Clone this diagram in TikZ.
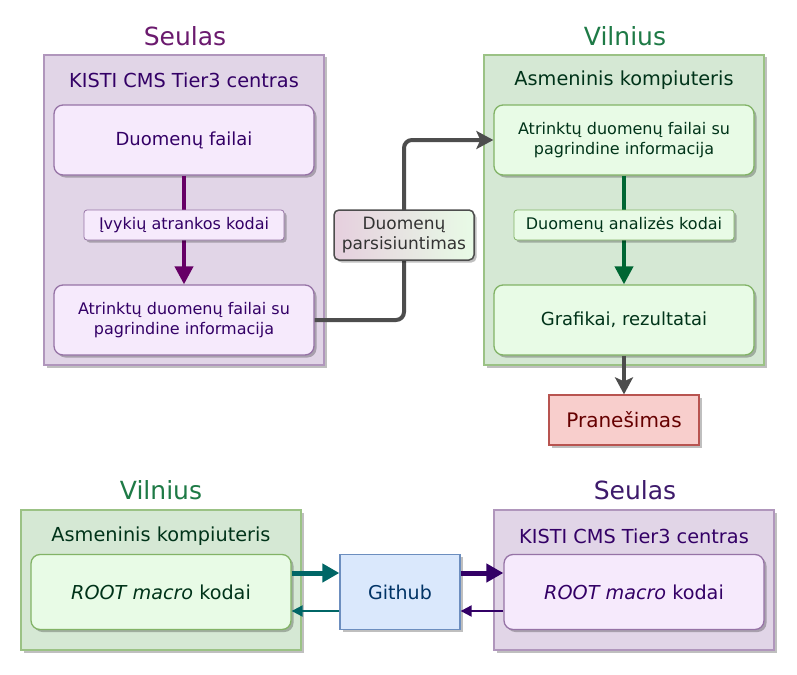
\documentclass[tikz,border=0pt]{standalone}
\usepackage{fontspec}
\setmainfont{DejaVu Sans}
\usetikzlibrary{arrows.meta,shadows,positioning,calc}
\definecolor{purpfill}{HTML}{E1D5E7}
\definecolor{purpline}{HTML}{9673A6}
\definecolor{purpbox}{HTML}{F6EAFC}
\definecolor{greenfill}{HTML}{D5E8D4}
\definecolor{greenline}{HTML}{82B366}
\definecolor{greenbox}{HTML}{E8FBE6}
\definecolor{purptitle}{HTML}{6B1A6E}
\definecolor{purptitleb}{HTML}{3D1A6B}
\definecolor{greentitle}{HTML}{1E7A46}
\definecolor{purptext}{HTML}{330066}
\definecolor{greentext}{HTML}{003319}
\definecolor{arrpurp}{HTML}{660066}
\definecolor{arrgreen}{HTML}{006633}
\definecolor{arrgray}{HTML}{4D4D4D}
\definecolor{arrteal}{HTML}{006666}
\definecolor{arrviolet}{HTML}{330066}
\definecolor{redfill}{HTML}{F8CECC}
\definecolor{redline}{HTML}{B85450}
\definecolor{redtext}{HTML}{660000}
\definecolor{bluefill}{HTML}{DAE8FC}
\definecolor{blueline}{HTML}{6C8EBF}
\definecolor{bluetext}{HTML}{003366}
\definecolor{gradleft}{HTML}{E6CFDE}
\tikzset{
  shad/.style={drop shadow={shadow xshift=2.5pt,shadow yshift=-2.5pt,opacity=0.25,fill=black}},
  cont/.style={shad,draw,line width=1.2pt,minimum width=280pt,inner sep=0pt},
  pcont/.style={cont,fill=purpfill,draw=purpline!75},
  gcont/.style={cont,fill=greenfill,draw=greenline!80},
  inbox/.style={shad,draw,line width=1.3pt,rounded corners=9pt,minimum width=260pt,inner sep=0pt,align=center,font=\fontsize{16}{20}\selectfont},
  pbox/.style={inbox,fill=purpbox,draw=purpline,text=purptext},
  gbox/.style={inbox,fill=greenbox,draw=greenline,text=greentext},
  bigtext/.style={font=\fontsize{18}{21}\selectfont},
  lab/.style={shad,draw,line width=0.8pt,rounded corners=3pt,inner sep=0pt,minimum height=30pt,font=\fontsize{16}{19}\selectfont},
  title/.style={font=\fontsize{25}{29}\selectfont},
  ctitle/.style={font=\fontsize{19.3}{22}\selectfont},
  vert arrow/.style={line width=4pt,-{Triangle[length=18pt,width=18pt]}},
  thick arrow/.style={line width=5pt,-{Triangle[length=17pt,width=18pt]}},
  thin arrow/.style={line width=2pt,-{Triangle[length=11pt,width=11pt]}},
  gray arrow/.style={line width=4pt,draw=arrgray,-{Stealth[length=17pt,width=18pt,inset=4pt]}},
}
\begin{document}
\begin{tikzpicture}[x=1pt,y=-1pt]
\useasboundingbox[fill=white] (0,0) rectangle (797,674);

% ---------- top left: Seulas ----------
\node[title,text=purptitle] (t1) at (185,36) {Seulas};
\node[pcont,minimum height=310pt] (c1) at (184,210) {};
\node[ctitle,text=purptext] (c1l) at (184,80) {KISTI CMS Tier3 centras};
\node[pbox,minimum height=70pt,bigtext] (s1) at (184,140) {Duomenų failai};
\node[pbox,minimum height=70pt] (s2) at (184,320) {Atrinktų duomenų failai su\\pagrindine informacija};
\draw[vert arrow,draw=arrpurp] (s1.south) -- (s2.north);
\node[lab,fill=purpbox,draw=purpline,text=purptext,minimum width=200pt] (l1) at (184,225) {Įvykių atrankos kodai};

% ---------- top right: Vilnius ----------
\node[title,text=greentitle] (t2) at (625,36) {Vilnius};
\node[gcont,minimum height=310pt] (c2) at (624,210) {};
\node[ctitle,text=greentext] (c2l) at (624,80) {Asmeninis kompiuteris};
\node[gbox,minimum height=70pt] (v1) at (624,140) {Atrinktų duomenų failai su\\pagrindine informacija};
\node[gbox,minimum height=70pt,bigtext] (v2) at (624,320) {Grafikai, rezultatai};
\draw[vert arrow,draw=arrgreen] (v1.south) -- (v2.north);
\node[lab,fill=greenbox,draw=greenline,text=greentext,minimum width=220pt] (l2) at (624,225) {Duomenų analizės kodai};

\node[draw=redline,line width=1.3pt,fill=redfill,text=redtext,minimum width=150pt,minimum height=50pt,inner sep=0pt,font=\fontsize{20}{23}\selectfont,shad] (pr) at (624,420) {Pranešimas};
\draw[gray arrow] (v2.south) -- (pr.north);

% ---------- transfer connector ----------
\node[inner sep=0pt,minimum width=140pt,minimum height=50pt] (dp0) at (404,235) {};
\draw[gray arrow,rounded corners=8pt]
  (s2.east) -- (s2.east -| dp0.center) -- (v1.west -| dp0.center) -- (v1.west);
\node[shad,draw=arrgray,line width=1.5pt,rounded corners=5pt,left color=gradleft,right color=greenbox,minimum width=140pt,minimum height=50pt,inner sep=0pt,align=center,text=black!80,font=\fontsize{17}{20}\selectfont] (dp) at (404,235) {Duomenų\\parsisiuntimas};

% ---------- bottom left: Vilnius ----------
\node[title,text=greentitle] (t3) at (161,490) {Vilnius};
\node[gcont,minimum height=140pt] (c3) at (161,580) {};
\node[ctitle,text=greentext] (c3l) at (161,536) {Asmeninis kompiuteris};
\node[gbox,minimum height=75pt,font=\fontsize{19.2}{22}\selectfont] (r1) at (161,592) {\textit{ROOT macro} kodai};

% ---------- Github ----------
\node[shad,draw=blueline,line width=1.3pt,fill=bluefill,text=bluetext,minimum width=120pt,minimum height=75pt,inner sep=0pt,font=\fontsize{19}{22}\selectfont] (gh) at (400,592) {Github};

% ---------- bottom right: Seulas ----------
\node[title,text=purptitleb] (t4) at (635,490) {Seulas};
\node[pcont,minimum height=140pt] (c4) at (634,580) {};
\node[ctitle,text=purptext] (c4l) at (634,536) {KISTI CMS Tier3 centras};
\node[pbox,minimum height=75pt,font=\fontsize{19.2}{22}\selectfont] (r2) at (634,592) {\textit{ROOT macro} kodai};

% ---------- bottom arrows ----------
\draw[thick arrow,draw=arrteal] ([yshift=19pt]r1.east) -- ([yshift=19pt]gh.west);
\draw[thin arrow,draw=arrteal] ([yshift=-19pt]gh.west) -- ([yshift=-19pt]r1.east);
\draw[thick arrow,draw=arrviolet] ([yshift=19pt]gh.east) -- ([yshift=19pt]r2.west);
\draw[thin arrow,draw=arrviolet] ([yshift=-19pt]r2.west) -- ([yshift=-19pt]gh.east);
\end{tikzpicture}
\end{document}
